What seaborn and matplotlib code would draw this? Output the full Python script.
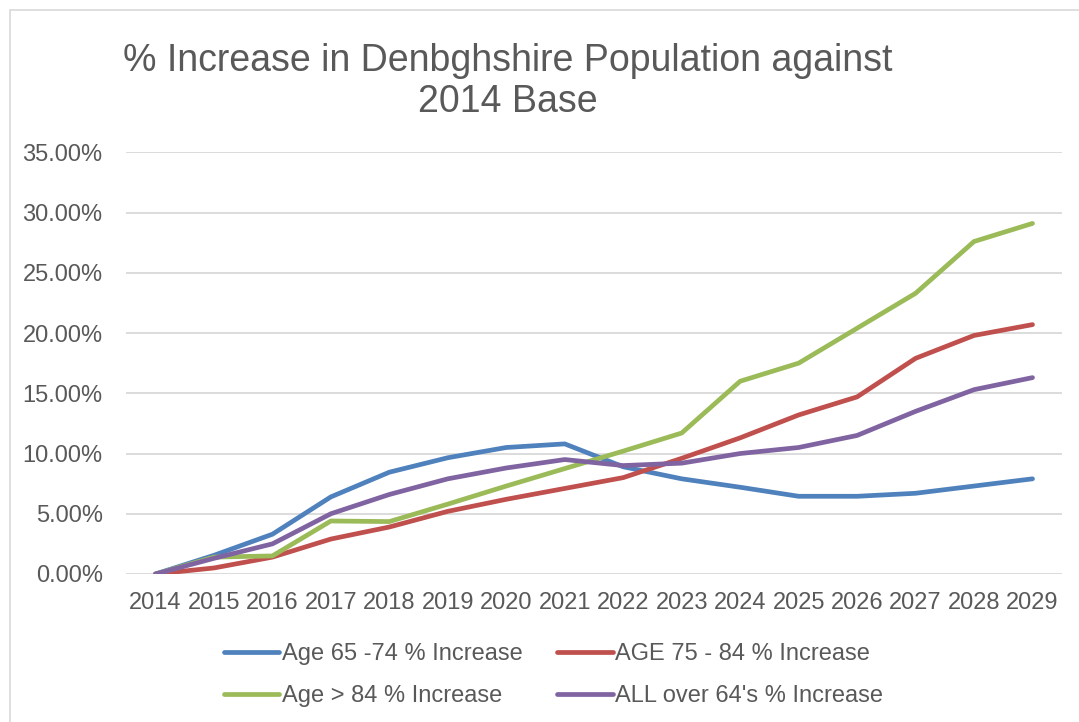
import pandas as pd
import matplotlib.pyplot as plt
from matplotlib.patches import Rectangle
from matplotlib.ticker import FuncFormatter
import seaborn as sns

# %% data (% increase vs 2014)
years = list(range(2014, 2030))
age_65_74 = [0, 1.55, 3.3, 6.4, 8.45, 9.65, 10.5, 10.8, 8.9, 7.9, 7.2, 6.45, 6.45, 6.7, 7.3, 7.9]
age_75_84 = [0, 0.5, 1.4, 2.9, 3.9, 5.2, 6.2, 7.1, 8.0, 9.6, 11.3, 13.2, 14.7, 17.9, 19.8, 20.7]
age_85_plus = [0, 1.4, 1.5, 4.4, 4.35, 5.8, 7.3, 8.75, 10.2, 11.7, 16.0, 17.5, 20.4, 23.3, 27.6, 29.1]
all_over_64 = [0, 1.3, 2.5, 5.0, 6.6, 7.9, 8.8, 9.5, 9.0, 9.2, 10.0, 10.5, 11.5, 13.5, 15.3, 16.3]

labels = ['Age 65 -74 % Increase', 'AGE 75 - 84 % Increase',
          'Age > 84 % Increase', "ALL over 64's % Increase"]
colours = ['#4F81BD', '#C0504D', '#9BBB59', '#8064A2']

df = pd.DataFrame({'year': years * 4,
                   'pct': age_65_74 + age_75_84 + age_85_plus + all_over_64,
                   'series': [l for l in labels for _ in years]})

# %% plot
sns.set_style('white')
plt.rcParams['font.family'] = ['Liberation Sans', 'DejaVu Sans']
grey = '#595959'

fig = plt.figure(figsize=(10.79, 7.22), dpi=100)
ax = fig.add_axes([0.117, 0.205, 0.867, 0.584])

sns.lineplot(data=df, x='year', y='pct', hue='series', hue_order=labels,
             palette=colours, linewidth=3.4, ax=ax, legend=True)

ax.set_xlim(2013.5, 2029.5)
ax.set_ylim(0, 35)
ax.set_xticks(years)
ax.set_yticks([0, 5, 10, 15, 20, 25, 30, 35])
ax.yaxis.set_major_formatter(FuncFormatter(lambda v, p: '%.2f%%' % v))
ax.tick_params(axis='both', labelsize=17, colors=grey, length=0)
ax.tick_params(axis='y', pad=17)
ax.tick_params(axis='x', pad=13)
ax.set_xlabel('')
ax.set_ylabel('')
ax.grid(axis='y', color='#D9D9D9', linewidth=1.3)
ax.set_axisbelow(True)
for s in ax.spines.values():
    s.set_visible(False)

# legend is filled column-wise, so reorder to read row-wise like the original
handles, texts = ax.get_legend_handles_labels()
order = [0, 2, 1, 3]
leg = ax.legend([handles[i] for i in order], [texts[i] for i in order],
                loc='center', bbox_to_anchor=(0.513, 0.065), bbox_transform=fig.transFigure,
                ncol=2, frameon=False, fontsize=17, handlelength=2.35, handletextpad=0.12,
                columnspacing=1.45, labelspacing=0.85, labelcolor=grey)
for line in leg.get_lines():
    line.set_linewidth(3.4)

fig.text(0.471, 0.916, '% Increase in Denbghshire Population against', ha='center',
         va='center', fontsize=27, color=grey)
fig.text(0.471, 0.859, '2014 Base', ha='center', va='center', fontsize=27, color=grey)

# light outer border of the chart area
fig.patches.append(Rectangle((10 / 1079, -0.01), 1.1, 1 - 10 / 722 + 0.01,
                             transform=fig.transFigure, fill=False,
                             edgecolor='#D9D9D9', linewidth=1.2))

plt.savefig('out.png', dpi=100)
